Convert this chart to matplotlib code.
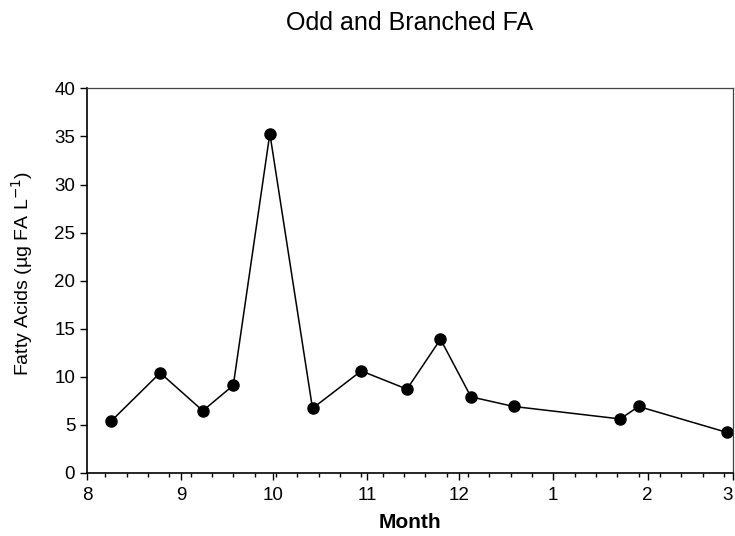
"""Odd and branched fatty acids through the season"""

import matplotlib
matplotlib.use('Agg')
import matplotlib.pyplot as plt
import matplotlib.dates as mdates
from matplotlib.ticker import FuncFormatter
import numpy as np

# sampling dates and concentrations (ug FA per L)
sample_dates = ['2005-08-09', '2005-08-25', '2005-09-08', '2005-09-18',
                '2005-09-30', '2005-10-14', '2005-10-30', '2005-11-14',
                '2005-11-25', '2005-12-05', '2005-12-19', '2006-01-23',
                '2006-01-29', '2006-02-27']
odd_branched = [5.4, 10.4, 6.45, 9.1, 35.3, 6.7, 10.6, 8.7,
                13.9, 7.9, 6.9, 5.6, 6.9, 4.2]

y_ticks = [0, 5, 10, 15, 20, 25, 30, 35, 40]


def main():
    plt.rcParams['font.family'] = ['Liberation Sans', 'DejaVu Sans']

    dates = np.array(sample_dates, dtype='datetime64[D]')

    fig = plt.figure(figsize=(7.35, 5.36), dpi=100)
    ax = fig.add_axes([0.1184, 0.118, 0.8789, 0.717])

    ax.plot(dates, odd_branched, color='black', lw=1.1, marker='o',
            markersize=8, markerfacecolor='black', markeredgecolor='black')

    # axis range: start of August to start of March
    ax.set_xlim(np.datetime64('2005-08-01'), np.datetime64('2006-03-01'))
    ax.set_ylim(0, 40)
    ax.set_yticks(y_ticks)

    ax.xaxis.set_major_locator(mdates.MonthLocator())
    ax.xaxis.set_major_formatter(
        FuncFormatter(lambda v, pos: str(mdates.num2date(v).month)))
    ax.xaxis.set_minor_locator(mdates.WeekdayLocator(byweekday=mdates.SU))

    ax.tick_params(axis='both', which='major', direction='out', length=5,
                   width=1.0, labelsize=13.5, colors='black')
    ax.tick_params(axis='x', which='minor', direction='out', length=3,
                   width=1.0)
    ax.tick_params(axis='x', which='major', pad=5)

    for side in ['left', 'bottom']:
        ax.spines[side].set_linewidth(1.2)
        ax.spines[side].set_color('black')
    for side in ['top', 'right']:
        ax.spines[side].set_linewidth(0.9)
        ax.spines[side].set_color('#444444')

    ax.set_xlabel('Month', fontsize=15, fontweight='bold', labelpad=7)
    ax.set_ylabel('Fatty Acids (\u00b5g FA L$^{-1}$)', fontsize=14,
                  labelpad=14)
    ax.yaxis.set_label_coords(-0.08, 0.52)
    fig.text(0.557, 0.958, 'Odd and Branched FA', ha='center', va='center',
             fontsize=18)

    # keep the last month label inside the figure
    fig.canvas.draw()
    ax.get_xticklabels()[-1].set_horizontalalignment('right')

    plt.savefig('out.png', dpi=100)


if __name__ == "__main__":
    main()
